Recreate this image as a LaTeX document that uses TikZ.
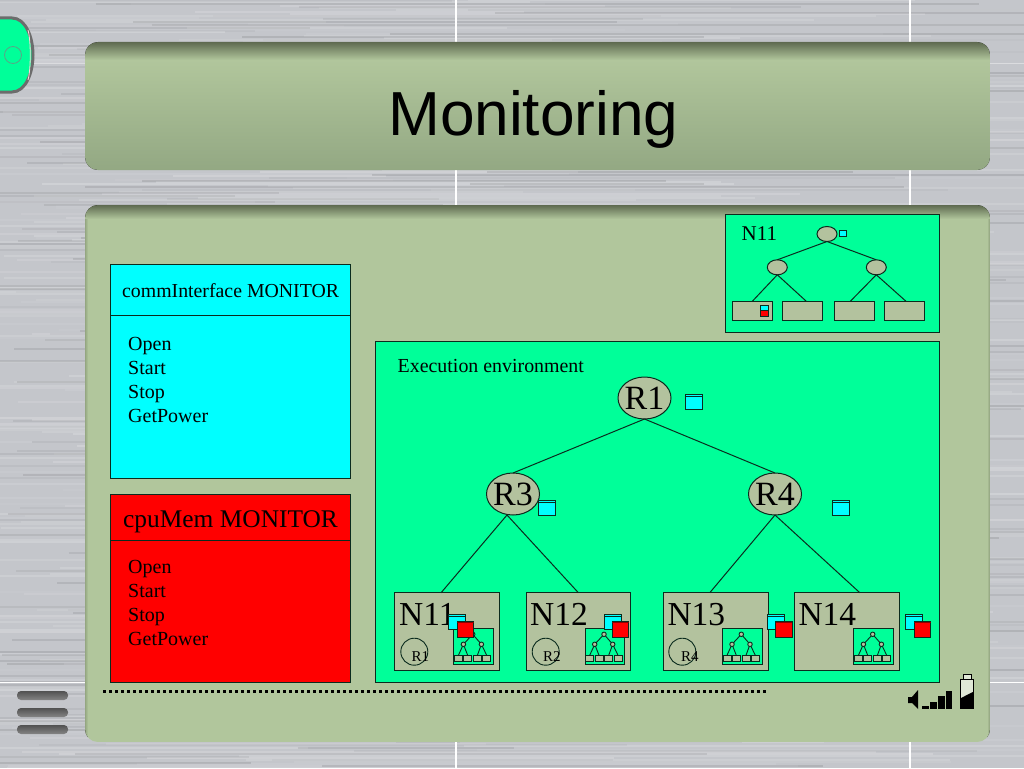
\documentclass[tikz,border=0pt]{standalone}
\usetikzlibrary{shapes.geometric}
\usepackage{fontspec}
\setmainfont{Liberation Serif}
\newfontfamily\titlefont{Liberation Sans}
\definecolor{bggray}{HTML}{C4C6CB}
\definecolor{panel}{HTML}{B1C69C}
\definecolor{panelbot}{HTML}{93A883}
\definecolor{paneldark}{HTML}{5E6A50}
\definecolor{envgreen}{HTML}{00FF99}
\definecolor{nodefill}{HTML}{B3C29E}
\definecolor{ink}{HTML}{0B2B1E}
\definecolor{barc}{HTML}{666666}
\definecolor{monitorcyan}{HTML}{00FFFF}
\definecolor{monitorred}{HTML}{FF0000}
\newcommand{\fs}[1]{\fontsize{#1}{#1}\selectfont}
\tikzset{
  x=1pt,y=-1pt,
  boxbase/.style={draw=ink,line width=1pt,inner sep=0pt,outer sep=0pt},
  envbox/.style={boxbase,fill=envgreen},
  nodebox/.style={boxbase,fill=nodefill},
  cyanbox/.style={boxbase,fill=monitorcyan},
  redbox/.style={boxbase,fill=monitorred},
  tree/.style={ellipse,boxbase,inner sep=-2.5pt,fill=nodefill,font=\fs{34}},
  conn/.style={draw=ink,line width=1pt},
  thinconn/.style={draw=ink,line width=.9pt},
  lbl/.style={anchor=base west,inner sep=0pt,text=black},
  rcircle/.style={circle,draw=ink,line width=.9pt,minimum size=27pt,inner sep=0pt},
  tiny leaf/.style={boxbase,line width=.9pt,fill=nodefill,minimum width=8pt,minimum height=5.7pt,anchor=north west},
  tiny node/.style={circle,boxbase,line width=.9pt,fill=nodefill,minimum size=4.5pt},
}
\newcommand{\pxbox}[6]{%
  \pgfmathsetmacro\pxw{#4-#2}\pgfmathsetmacro\pxh{#5-#3}%
  \node[#6,minimum width=\pxw pt,minimum height=\pxh pt,anchor=north west] (#1) at (#2,#3) {};}
\newcommand{\minitree}[2]{%
  \pxbox{#1box}{#2}{628.3}{#2+39.7}{664.7}{envbox}
  \node[tiny node] (#1r) at (#2+19,634.3) {};
  \node[tiny node] (#1a) at (#2+9.7,644.3) {};
  \node[tiny node] (#1b) at (#2+27.7,644.3) {};
  \node[tiny leaf] (#1p) at (#2+.7,655.3) {};
  \node[tiny leaf] (#1q) at (#2+10,655.3) {};
  \node[tiny leaf] (#1s) at (#2+19.7,655.3) {};
  \node[tiny leaf] (#1t) at (#2+29,655.3) {};
  \draw[thinconn] (#1r) -- (#1a);
  \draw[thinconn] (#1r) -- (#1b);
  \draw[thinconn] (#1a) -- (#1p.north);
  \draw[thinconn] (#1a) -- (#1q.north);
  \draw[thinconn] (#1b) -- (#1s.north);
  \draw[thinconn] (#1b) -- (#1t.north);}
\newcommand{\cyansq}[3]{%
  \pxbox{#1}{#2}{#3}{#2+17}{#3+15.5}{cyanbox}
  \draw[draw=ink,line width=.7pt] ([yshift=-2.7pt]#1.north west) -- ([yshift=-2.7pt]#1.north east);}
\newcommand{\redsq}[3]{%
  \pxbox{#1}{#2}{#3}{#2+16.7}{#3+15.4}{redbox}
  \draw[draw=monitorred!55!black,line width=1.4pt] ([yshift=-1pt]#1.north west) -- ([yshift=-1pt]#1.north east);}
\begin{document}
\begin{tikzpicture}
\useasboundingbox (0,0) rectangle (1024,768);
% brushed metal background
\fill[bggray] (0,0) rectangle (1024,768);
\begin{scope}
\clip (0,0) rectangle (1024,768);
\pgfmathsetseed{11}
\foreach \yy in {0,2,...,768}{
  \pgfmathsetmacro\op{0.04+0.16*rnd}
  \pgfmathsetmacro\xa{rnd*600-100}
  \pgfmathsetmacro\xb{\xa+200+rnd*700}
  \draw[white,opacity=\op,line width=1.5pt] (\xa,\yy) -- (\xb,\yy);
}
\foreach \yy in {1,4,...,768}{
  \pgfmathsetmacro\op{0.02+0.08*rnd}
  \pgfmathsetmacro\xa{rnd*600-100}
  \pgfmathsetmacro\xb{\xa+200+rnd*700}
  \draw[black,opacity=\op,line width=1.2pt] (\xa,\yy) -- (\xb,\yy);
}
\end{scope}
\draw[white,line width=1.2pt] (456,0) -- (456,768);
\draw[white,line width=1.2pt] (910,0) -- (910,768);
\draw[white,line width=1.2pt] (0,682.5) -- (1024,682.5);
\draw[white,opacity=.4,line width=1pt] (0,63) -- (1024,63);
% title panel
\begin{scope}
\clip[rounded corners=13pt] (85,42) rectangle (990,170);
\fill[top color=paneldark,bottom color=panel] (85,42) rectangle (990,60);
\fill[top color=panel,bottom color=panelbot] (85,60) rectangle (990,170);
\end{scope}
\node[lbl,font=\titlefont\fs{62.2}] (title) at (388,135) {Monitoring};
% main panel
\begin{scope}
\clip[rounded corners=13pt] (85,205) rectangle (990,742);
\fill[panel] (85,205) rectangle (990,742);
\fill[top color=paneldark,bottom color=panel] (85,205) rectangle (990,219);
\fill[left color=paneldark!35!panel,right color=panel] (85,219) rectangle (88,742);
\fill[left color=panel,right color=paneldark!45!panel] (987,219) rectangle (990,742);
\end{scope}
% left tab
\draw[draw=gray!85!black,line width=3pt,fill=envgreen] (-3,18) -- (12,18) .. controls (26,18) and (33,38) .. (33,55) .. controls (33,72) and (26,92) .. (12,92) -- (-3,92);
\draw[white!85!red,line width=.8pt] (28,30) .. controls (31,40) and (31,70) .. (28,80);
\node[circle,draw=gray!70!envgreen,line width=.8pt,minimum size=17pt,inner sep=0pt] (tabdot) at (13,55) {};
% menu bars
\foreach \nm/\yy in {m1/695.5,m2/712.5,m3/729.5}{
  \node[rounded corners=4pt,top color=barc!80!black,bottom color=barc!80!white,minimum width=51pt,minimum height=9pt,inner sep=0pt] (\nm) at (42.5,\yy) {};
}
% cyan monitor
\pxbox{cb}{110.5}{264}{350}{478}{cyanbox}
\pxbox{ch}{110.5}{264}{350}{315.5}{cyanbox}
\node[lbl,font=\fs{19.8}] (ct) at (122,297.3) {commInterface MONITOR};
\node[lbl,font=\fs{20}] (c1) at (128,350) {Open};
\node[lbl,font=\fs{20}] (c2) at (128,374) {Start};
\node[lbl,font=\fs{20}] (c3) at (128,398) {Stop};
\node[lbl,font=\fs{20}] (c4) at (128,422) {GetPower};
% red monitor
\pxbox{rb}{110.5}{494}{350}{682}{redbox}
\pxbox{rh}{110.5}{494}{350}{540}{redbox}
\node[lbl,font=\fs{25.4}] (rt) at (123,527) {cpuMem MONITOR};
\node[lbl,font=\fs{20}] (r1l) at (128,573) {Open};
\node[lbl,font=\fs{20}] (r2l) at (128,597) {Start};
\node[lbl,font=\fs{20}] (r3l) at (128,621) {Stop};
\node[lbl,font=\fs{20}] (r4l) at (128,645) {GetPower};
% inset N11
\pxbox{inset}{725}{214}{939}{332}{envbox}
\node[lbl,font=\fs{21}] (insetl) at (741.5,240) {N11};
\node[ellipse,boxbase,fill=nodefill,minimum width=20pt,minimum height=15pt] (ia) at (827,234) {};
\node[ellipse,boxbase,fill=nodefill,minimum width=20pt,minimum height=15pt] (ib) at (777.3,267.3) {};
\node[ellipse,boxbase,fill=nodefill,minimum width=20pt,minimum height=15pt] (ic) at (876.3,267.3) {};
\pxbox{il1}{732.3}{301.3}{772.3}{320.3}{nodebox}
\pxbox{il2}{782.3}{301.3}{822.3}{320.3}{nodebox}
\pxbox{il3}{834.3}{301.3}{874.3}{320.3}{nodebox}
\pxbox{il4}{884}{301.3}{924}{320.3}{nodebox}
\draw[conn] (ia.south) -- (ib.north);
\draw[conn] (ia.south) -- (ic.north);
\draw[conn] (ib.south) -- (il1.north);
\draw[conn] (ib.south) -- ([xshift=4pt]il2.north);
\draw[conn] (ic.south) -- ([xshift=-4pt]il3.north);
\draw[conn] (ic.south) -- ([xshift=2pt]il4.north);
\pxbox{ics}{839.3}{230.3}{846.7}{236}{cyanbox,line width=.7pt}
\pxbox{ilc}{760.3}{305.3}{768}{310.7}{cyanbox,line width=.7pt}
\pxbox{ilr}{760.3}{310.7}{768}{316}{redbox,line width=.7pt}
% execution environment
\pxbox{env}{375}{341}{939}{682}{envbox}
\node[lbl,font=\fs{19.9}] (envl) at (397.5,372.3) {Execution environment};
\node[tree,minimum width=53pt,minimum height=42pt] (R1) at (644.5,398) {R1};
\node[tree,minimum width=53pt,minimum height=42pt] (R3) at (513,494) {R3};
\node[tree,minimum width=53pt,minimum height=42pt] (R4) at (775,494) {R4};
\pxbox{n11}{394.7}{592.7}{499.5}{670}{nodebox}
\pxbox{n12}{526}{592.7}{630.7}{670}{nodebox}
\pxbox{n13}{663.3}{592.7}{768.3}{670}{nodebox}
\pxbox{n14}{794.3}{592.7}{899.3}{670}{nodebox}
\draw[conn] (R1.south) -- (R3.north);
\draw[conn] (R1.south) -- (R4.north);
\draw[conn] ([xshift=-6pt]R3.south) -- ([xshift=-6pt]n11.north);
\draw[conn] ([xshift=-6pt]R3.south) -- (n12.north);
\draw[conn] (R4.south) -- ([xshift=-6pt]n13.north);
\draw[conn] (R4.south) -- ([xshift=13pt]n14.north);
\cyansq{c0}{685.3}{394}
\cyansq{c3}{538.3}{500}
\cyansq{c4}{832.3}{500}
% node labels
\node[lbl,font=\fs{33.5}] (n11l) at (399,625) {N11};
\node[lbl,font=\fs{33.5}] (n12l) at (530,625) {N12};
\node[lbl,font=\fs{33.5}] (n13l) at (667.3,625) {N13};
\node[lbl,font=\fs{33.5}] (n14l) at (798.3,625) {N14};
% router circles
\node[rcircle] (k1) at (414.3,651.7) {};
\node[rcircle] (k2) at (545.7,651.7) {};
\node[rcircle] (k3) at (682.3,651.7) {};
\node[lbl,font=\fs{15}] (k1l) at (411.5,661.5) {R1};
\node[lbl,font=\fs{15}] (k2l) at (543,661.5) {R2};
\node[lbl,font=\fs{15}] (k3l) at (681,661.5) {R4};
% mini trees
\minitree{ma}{453.7}
\minitree{mb}{585}
\minitree{mc}{722.3}
\minitree{md}{853.7}
% monitors
\cyansq{s1}{448.7}{614}
\redsq{t1}{457}{621.7}
\cyansq{s2}{604}{614}
\redsq{t2}{612}{621.7}
\cyansq{s3}{767.3}{614}
\redsq{t3}{775.7}{621.7}
\cyansq{s4}{905.7}{614}
\redsq{t4}{914}{621.7}
% dotted rule
\coordinate (da) at (103,691);
\coordinate (db) at (768,691);
\draw[black,line width=3pt,dash pattern=on 3pt off 3pt] (da) -- (db);
% status icons
\fill[black] (908,697) -- (912,697) -- (918,690) -- (918,709) -- (912,703) -- (908,703) -- cycle;
\fill[black] (922,705.7) rectangle (929,708.7);
\fill[black] (930,701.7) rectangle (937,708.7);
\fill[black] (937.7,696) rectangle (945,708.7);
\fill[black] (945.7,690.7) rectangle (952.3,708.7);
\fill[panel!40!white] (963,674) rectangle (971,680);
\draw[black,line width=.8pt] (963,680) -- (963,674) -- (971,674) -- (971,680);
\fill[panel!40!white] (960.5,679.5) rectangle (973.3,708.7);
\fill[black] (960.5,698.3) -- (973.3,691.7) -- (973.3,708.7) -- (960.5,708.7) -- cycle;
\draw[black,line width=.8pt] (960.5,679.5) rectangle (973.3,708.7);
\end{tikzpicture}
\end{document}
